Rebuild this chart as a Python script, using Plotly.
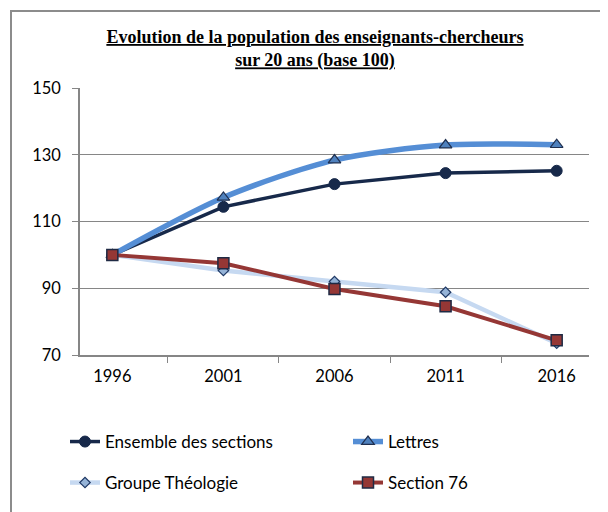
import plotly.graph_objects as go

years = ["1996", "2001", "2006", "2011", "2016"]
ensemble = [100, 114.4, 121.2, 124.5, 125.2]
lettres = [100, 117.2, 128.4, 132.9, 133.0]
theologie = [100, 95.3, 92.0, 88.8, 73.5]
section76 = [100, 97.5, 89.8, 84.6, 74.4]
yticks = [70, 90, 110, 130, 150]

W, H = 608, 512
OFF = 8  # page body margin
# plot area in page pixels: x 80..589, y 88..355
L = 80 - OFF
T = 88 - OFF
R = W - (589 - OFF)
B = H - (355 - OFF)
pw, ph = W - L - R, H - T - B

def px(x):
    return (x - OFF - L) / pw

def py(y):
    return (H - B - (y - OFF)) / ph

fig = go.Figure()
fig.add_trace(go.Scatter(x=years, y=ensemble, name="Ensemble des sections", mode="lines+markers",
                         line=dict(color="#17294a", width=3.5),
                         marker=dict(symbol="circle", size=11, color="#17294a", line=dict(color="#17294a", width=1)),
                         legend="legend"))
fig.add_trace(go.Scatter(x=years, y=lettres, name="Lettres", mode="lines+markers",
                         line=dict(color="#558ed5", width=5.5, shape="spline", smoothing=0.8),
                         marker=dict(symbol="triangle-up", size=11, color="#4f81bd", line=dict(color="#1f2f4f", width=1.2)),
                         legend="legend"))
fig.add_trace(go.Scatter(x=years, y=theologie, name="Groupe Théologie", mode="lines+markers",
                         line=dict(color="#c6d9f1", width=4.5),
                         marker=dict(symbol="diamond", size=8, color="#95b3d7", line=dict(color="#1f3864", width=1.2)),
                         legend="legend2"))
fig.add_trace(go.Scatter(x=years, y=section76, name="Section 76", mode="lines+markers",
                         line=dict(color="#953735", width=4),
                         marker=dict(symbol="square", size=11, color="#953735", line=dict(color="#1f2a44", width=1.5)),
                         legend="legend2"))

axis_col = "#868686"
fig.update_layout(
    width=W, height=H,
    margin=dict(l=L, r=R, t=T, b=B, autoexpand=False),
    paper_bgcolor="white", plot_bgcolor="white",
    font=dict(family="Lato, Liberation Sans, sans-serif", size=16.5, color="#000000"),
    title=dict(text="<b><u>Evolution de la population des enseignants-chercheurs</u></b><br><b><u>sur 20 ans (base 100)</u></b>",
               xref="container", yref="container",
               x=(315 - OFF) / W, xanchor="center", y=1 - (43 - OFF) / H, yanchor="middle",
               font=dict(family="Liberation Serif, Times New Roman, serif", size=18, color="#000000")),
    xaxis=dict(type="category", tickson="boundaries", ticks="outside", ticklen=6, tickcolor=axis_col,
               showline=True, linecolor=axis_col, linewidth=1.5, showgrid=False, tickfont=dict(size=16.5),
               ticklabelstandoff=5),
    yaxis=dict(range=[70, 150], tickvals=yticks, ticks="outside", ticklen=6, tickcolor=axis_col,
               showline=True, linecolor=axis_col, linewidth=1.5, showgrid=True, gridcolor=axis_col, gridwidth=1,
               zeroline=False, tickfont=dict(size=16.5), ticklabelstandoff=8),
    legend=dict(orientation="h", x=px(65), y=py(424), xanchor="left", yanchor="top",
                entrywidth=238, entrywidthmode="pixels", font=dict(size=17), bgcolor="rgba(0,0,0,0)"),
    legend2=dict(orientation="h", x=px(65), y=py(465), xanchor="left", yanchor="top",
                 entrywidth=238, entrywidthmode="pixels", font=dict(size=17), bgcolor="rgba(0,0,0,0)"),
)

# outer chart frame (left and top edges visible)
fig.add_shape(type="path", xref="paper", yref="paper",
              path=f"M {px(650)} {py(11)} L {px(11)} {py(11)} L {px(11)} {py(560)}",
              line=dict(color="#8c8c8c", width=2))

fig.write_html("out.html")
